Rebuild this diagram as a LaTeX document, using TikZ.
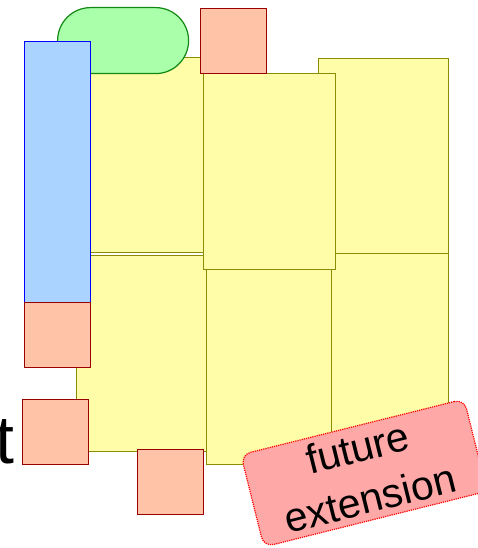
\documentclass[tikz,border=0pt]{standalone}
\usepackage{fontspec}
\setmainfont{Liberation Sans}
\begin{document}
\begin{tikzpicture}[x=1pt,y=-1pt,
  box/.style={draw, inner sep=0pt, anchor=north west, line width=1.2pt},
  yel/.style={box, fill=yelfill, draw=yelline},
  grn/.style={box, fill=grnfill, draw=grnline, rounded corners=33pt},
  blu/.style={box, fill=blufill, draw=bluline},
  sq/.style={box, fill=sqfill, draw=sqline, minimum width=66pt, minimum height=65pt},
  fut/.style={draw=red, densely dotted, line width=1.2pt, fill=futfill, rounded corners=10pt,
    minimum width=230pt, minimum height=95pt, align=center, inner sep=0pt,
    font=\fontsize{41}{52}\selectfont, rotate=14}
]
\definecolor{yelfill}{HTML}{FFFDA8}
\definecolor{yelline}{HTML}{8C8C00}
\definecolor{grnfill}{HTML}{AAFFAA}
\definecolor{grnline}{HTML}{118811}
\definecolor{blufill}{HTML}{AAD4FF}
\definecolor{bluline}{HTML}{0000FF}
\definecolor{sqfill}{HTML}{FFC4A8}
\definecolor{sqline}{HTML}{990000}
\definecolor{futfill}{HTML}{FFA8A8}
\path[use as bounding box, clip] (0,0) rectangle (478,548);
% yellow grid
\node[yel, minimum width=130pt, minimum height=195pt] (tr) at (318,58) {};
\node[yel, minimum width=117pt, minimum height=211pt] (br) at (331,253) {};
\node[yel, minimum width=125pt, minimum height=209pt] (bm) at (206,255) {};
\node[yel, minimum width=128pt, minimum height=195pt] (tl) at (76,57) {};
\node[yel, minimum width=130pt, minimum height=196pt] (bl) at (76,255) {};
\node[yel, minimum width=132pt, minimum height=196pt] (tm) at (203,73) {};
% green, blue
\node[grn, minimum width=131pt, minimum height=66pt] (g) at (57,7) {};
\node[blu, minimum width=66pt, minimum height=261pt] (b) at (24,41) {};
% red squares
\node[sq] (s1) at (200,8) {};
\node[sq] (s2) at (24,302) {};
\node[sq] (s3) at (22,399) {};
\node[sq] (s4) at (137,449) {};
% text
\node[anchor=base east, inner sep=0pt, font=\fontsize{68}{80}\selectfont] (t) at (15,463) {t};
\node[fut] (f) at (364,473) {future\\extension};
\end{tikzpicture}
\end{document}
